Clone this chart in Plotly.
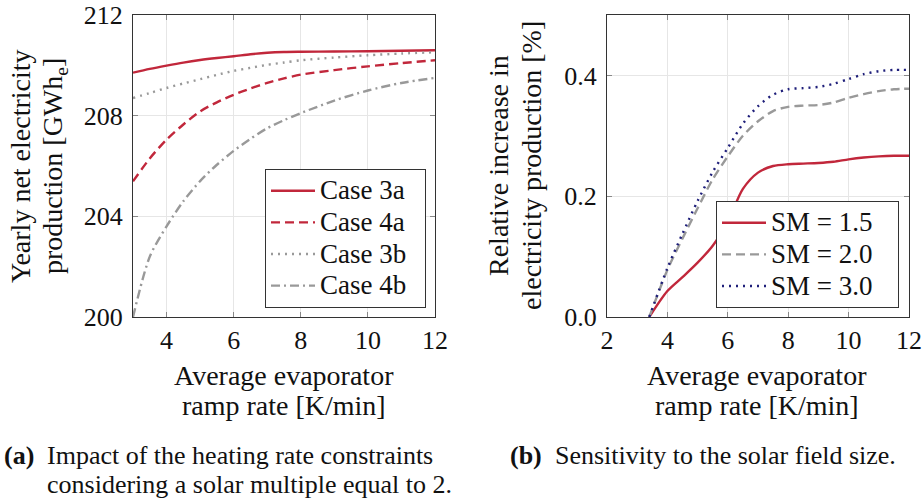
import plotly.graph_objects as go

# ---- Data: left panel (a) ----
x_a = [3, 3.5, 4, 4.5, 5, 5.5, 6, 6.5, 7, 7.5, 8, 9, 10, 11, 12]
case_3a = [209.71, 209.86, 209.99, 210.11, 210.21, 210.29, 210.36, 210.44, 210.50, 210.53, 210.54, 210.55, 210.56, 210.58, 210.60]
case_4a = [205.39, 206.30, 207.05, 207.65, 208.17, 208.53, 208.83, 209.08, 209.30, 209.48, 209.63, 209.81, 209.96, 210.09, 210.20]
case_3b = [208.70, 208.90, 209.10, 209.28, 209.45, 209.62, 209.78, 209.90, 210.02, 210.11, 210.20, 210.31, 210.40, 210.47, 210.52]
case_4b = [200.00, 202.40, 203.60, 204.60, 205.40, 206.05, 206.60, 207.08, 207.50, 207.82, 208.10, 208.60, 209.00, 209.30, 209.50]

# ---- Data: right panel (b) ----
x_b = [3.4, 4, 4.5, 5, 5.5, 6, 6.5, 7, 7.5, 8, 8.5, 9, 9.5, 10, 10.5, 11, 11.5, 12]
sm_15 = [0.0, 0.043, 0.066, 0.090, 0.118, 0.158, 0.212, 0.239, 0.250, 0.253, 0.254, 0.255, 0.257, 0.261, 0.264, 0.266, 0.267, 0.267]
sm_20 = [0.0, 0.078, 0.130, 0.180, 0.228, 0.266, 0.300, 0.324, 0.341, 0.348, 0.350, 0.351, 0.355, 0.363, 0.369, 0.374, 0.377, 0.378]
sm_30 = [0.0, 0.081, 0.138, 0.192, 0.240, 0.280, 0.320, 0.349, 0.368, 0.377, 0.379, 0.381, 0.386, 0.394, 0.402, 0.407, 0.409, 0.409]

xt_a = [4, 6, 8, 10, 12]
yt_a = [200, 204, 208, 212]
xt_b = [2, 4, 6, 8, 10, 12]
yt_b = [0.0, 0.2, 0.4]
yt_b_labels = ["0.0", "0.2", "0.4"]

legend_a = ["Case 3a", "Case 4a", "Case 3b", "Case 4b"]
legend_b = ["SM = 1.5", "SM = 2.0", "SM = 3.0"]

RED = "#c1273b"
GRAY = "#999999"
NAVY = "#1f1f7a"
FONT = "Liberation Serif, DejaVu Serif, serif"

fig = go.Figure()

def add(x, y, name, color, dash, xa, ya, legend, pad, width=2.4):
    label = '<span style="font-size:27px">%s</span>' % (name + "\u00a0" * pad)
    fig.add_trace(go.Scatter(x=x, y=y, name=label, mode="lines",
                             line=dict(color=color, dash=dash, width=width, shape="spline", smoothing=0.8),
                             xaxis=xa, yaxis=ya, legend=legend))

add(x_a, case_3a, legend_a[0], RED, "solid", "x", "y", "legend", 2)
add(x_a, case_4a, legend_a[1], RED, "9px,5px", "x", "y", "legend", 2)
add(x_a, case_3b, legend_a[2], GRAY, "2px,5px", "x", "y", "legend", 2)
add(x_a, case_4b, legend_a[3], GRAY, "9px,4px,2px,4px", "x", "y", "legend", 2)

add(x_b, sm_15, legend_b[0], RED, "solid", "x2", "y2", "legend2", 3)
add(x_b, sm_20, legend_b[1], GRAY, "9px,5px", "x2", "y2", "legend2", 3)
add(x_b, sm_30, legend_b[2], NAVY, "2px,5px", "x2", "y2", "legend2", 3)

W, H = 923, 503
ydom = [1 - 317 / H, 1 - 15 / H]
axis_common = dict(showline=True, linecolor="#333333", linewidth=1, mirror="ticks",
                   ticks="inside", ticklen=5, tickcolor="#888888", automargin=False,
                   showgrid=True, gridcolor="#e6e6e6", gridwidth=1, zeroline=False,
                   tickfont=dict(family=FONT, size=26, color="#111111"))

leg_common = dict(bgcolor="white", bordercolor="#333333", borderwidth=1,
                  font=dict(family=FONT, size=22, color="#111111"), tracegroupgap=0, itemwidth=44)

fig.update_layout(
    width=W, height=H, margin=dict(l=0, r=0, t=0, b=0, pad=0, autoexpand=False),
    paper_bgcolor="white", plot_bgcolor="white",
    font=dict(family=FONT, size=26, color="#111111"),
    xaxis=dict(domain=[133 / W, 435 / W], range=[3, 12], tickvals=xt_a, anchor="y", **axis_common),
    yaxis=dict(domain=ydom, range=[200, 212], tickvals=yt_a, anchor="x", ticklabelstandoff=4, **axis_common),
    xaxis2=dict(domain=[607 / W, 909 / W], range=[2, 12], tickvals=xt_b, anchor="y2", **axis_common),
    yaxis2=dict(domain=ydom, range=[0, 0.5], tickvals=yt_b, ticktext=yt_b_labels, anchor="x2", ticklabelstandoff=4, **axis_common),
    legend=dict(x=426 / W, xanchor="right", y=1 - 308 / H, yanchor="bottom", **leg_common),
    legend2=dict(x=899 / W, xanchor="right", y=1 - 308 / H, yanchor="bottom", **leg_common),
    showlegend=True,
)

ann = []

def text(t, x, y, size=28, angle=0, xanchor="center", bold=False):
    ann.append(dict(text=("<b>%s</b>" % t) if bold else t, x=x / W, y=1 - y / H,
                    xref="paper", yref="paper", textangle=angle, showarrow=False,
                    xanchor=xanchor, yanchor="middle", font=dict(family=FONT, size=size, color="#111111")))

# y-axis titles (two lines each)
text("Yearly net electricity", 20, 166, angle=-90)
text("production [GWh<sub>e</sub>]", 54, 166, angle=-90)
text("Relative increase in", 498, 166, angle=-90)
text("electricity production [%]", 531, 166, angle=-90)
# x-axis titles
for cx in (284, 757):
    text("Average evaporator", cx, 375)
    text("ramp rate [K/min]", cx, 405)
# captions
text("(a)", 2, 455, size=26, xanchor="left", bold=True)
text("Impact of the heating rate constraints", 45, 455, size=26, xanchor="left")
text("considering a solar multiple equal to 2.", 45, 484, size=26, xanchor="left")
text("(b)", 508, 455, size=26, xanchor="left", bold=True)
text("Sensitivity to the solar field size.", 553, 455, size=26, xanchor="left")
fig.update_layout(annotations=ann)

fig.write_html("out.html")
